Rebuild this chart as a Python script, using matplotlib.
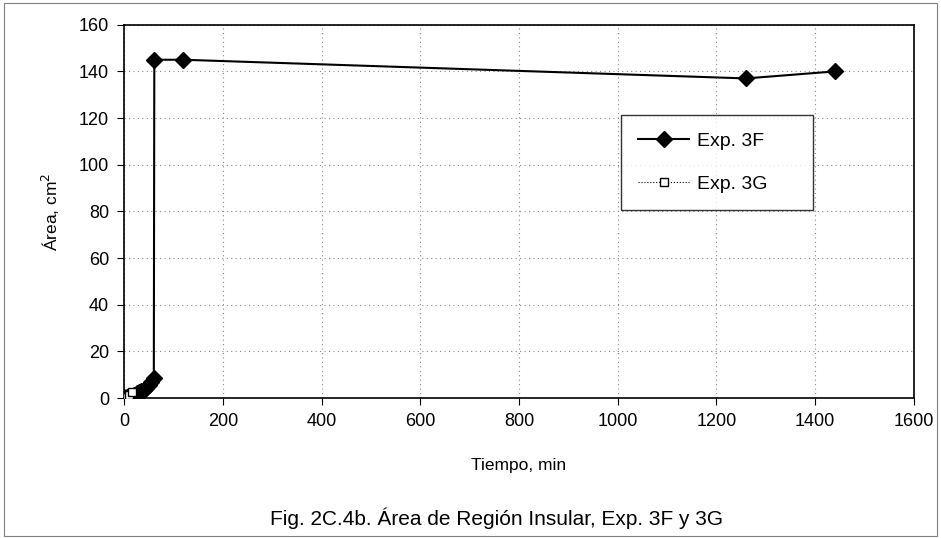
import matplotlib
matplotlib.use("Agg")
import matplotlib.pyplot as plt
from matplotlib.patches import Rectangle

plt.rcParams['font.family'] = ['Liberation Sans', 'DejaVu Sans']

# Exp. 3F data
t_3f = [0, 5, 10, 15, 20, 25, 30, 35, 40, 45, 50, 55, 60, 61, 120, 1260, 1440]
a_3f = [0.5, 0.3, 0.6, 1.0, 1.5, 2.0, 2.5, 3.0, 3.5, 4.5, 5.5, 7.0, 8.5, 145, 145, 137, 140]

# Exp. 3G data
t_3g = [0, 5, 10, 15]
a_3g = [0.2, 0.5, 1.5, 2.7]

xticks = [0, 200, 400, 600, 800, 1000, 1200, 1400, 1600]
yticks = [0, 20, 40, 60, 80, 100, 120, 140, 160]

fig = plt.figure(figsize=(9.41, 5.38), dpi=100)
ax = fig.add_axes([0.132, 0.260, 0.839, 0.694])

ax.plot(t_3f, a_3f, color='black', lw=1.5, marker='D', ms=8,
        markerfacecolor='black', label='Exp. 3F', zorder=3)
ax.plot(t_3g, a_3g, color='black', lw=0.8, ls=':', marker='s', ms=6,
        markerfacecolor='white', markeredgecolor='black', label='Exp. 3G', zorder=4)

ax.set_xlim(0, 1600)
ax.set_ylim(0, 160)
ax.set_xticks(xticks)
ax.set_yticks(yticks)
ax.tick_params(direction='out', length=5, labelsize=13, color='black', pad=6)
ax.grid(True, ls=(0, (1, 3)), color='#888888', lw=0.8)
for s in ax.spines.values():
    s.set_linewidth(1.2)
    s.set_color('black')

ax.set_xlabel('Tiempo, min', fontsize=12.5, labelpad=20)
ax.set_ylabel('Área, cm$^2$', fontsize=12.5, labelpad=12)

leg = ax.legend(loc='center', bbox_to_anchor=(0.629, 0.499, 0.244, 0.265),
                mode='expand', fontsize=14, frameon=True, fancybox=False,
                edgecolor='black', handlelength=2.6, handletextpad=0.4,
                labelspacing=1.3, borderpad=0.9, borderaxespad=0)
leg.get_frame().set_linewidth(1.0)

fig.text(0.528, 0.037, 'Fig. 2C.4b. Área de Región Insular, Exp. 3F y 3G',
         ha='center', va='center', fontsize=15)

# outer chart border
fig.patches.append(Rectangle((0.004, 0.004), 0.992, 0.99, transform=fig.transFigure,
                             fill=False, edgecolor='gray', lw=0.8))

fig.savefig('out.png', dpi=100)
